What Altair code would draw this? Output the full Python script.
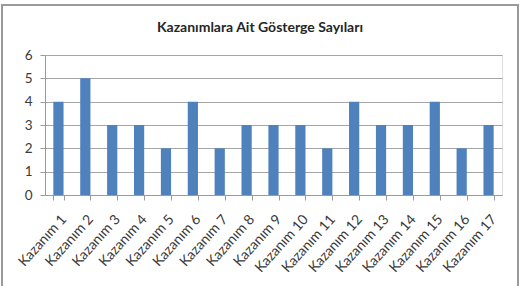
import altair as alt
import pandas as pd

categories = [f"Kazanım {i}" for i in range(1, 18)]
values = [4, 5, 3, 3, 2, 4, 2, 3, 3, 3, 2, 4, 3, 3, 4, 2, 3]
title_text = "Kazanımlara Ait Gösterge Sayıları"

df = pd.DataFrame({"kazanim": categories, "sayi": values})
FONT = "Lato"

bars = alt.Chart(df).mark_bar(color="#4F81BD").encode(
    x=alt.X("kazanim:N", sort=categories, title=None,
            scale=alt.Scale(paddingInner=0.62, paddingOuter=0.31),
            axis=alt.Axis(labelAngle=-48, labelAlign="right", labelBaseline="top",
                          labelFont=FONT, labelFontSize=14,
                          labelColor="#3a3a3a", tickBand="extent", tickSize=5,
                          tickColor="#9a9a9a", domainColor="#9a9a9a",
                          labelPadding=12, labelOverlap=False)),
    y=alt.Y("sayi:Q", title=None,
            scale=alt.Scale(domain=[0, 6], nice=False),
            axis=alt.Axis(values=[0, 1, 2, 3, 4, 5, 6], grid=True,
                          gridColor="#a6a6a6", labelFont=FONT, labelFontSize=13.5,
                          labelColor="#3a3a3a", tickSize=5, tickColor="#9a9a9a",
                          domainColor="#9a9a9a", labelPadding=8)),
)

frame = alt.Chart(pd.DataFrame({"a": [0]})).mark_rect(
    fill=None, stroke="#9a9a9a", strokeWidth=2
).encode(
    x=alt.value(-43), x2=alt.value(473), y=alt.value(-50), y2=alt.value(240)
)

title = alt.Chart(pd.DataFrame({"t": [title_text]})).mark_text(
    font=FONT, fontSize=14, fontWeight="bold", color="#262626",
    align="center", baseline="alphabetic"
).encode(text="t:N", x=alt.value(215), y=alt.value(-23))

chart = alt.layer(frame, bars, title).properties(
    width=457, height=140,
    autosize=alt.AutoSizeParams(type="none"),
    padding={"left": 45, "top": 55, "right": 19, "bottom": 91},
).configure_view(stroke=None).configure(background="white")

chart.save("out.html", embed_options={"renderer": "svg", "actions": False})
